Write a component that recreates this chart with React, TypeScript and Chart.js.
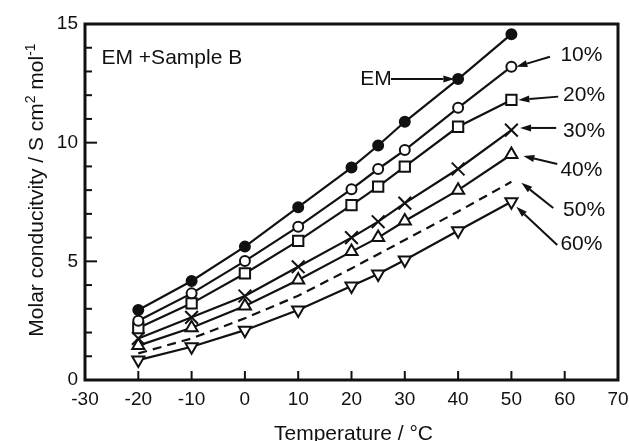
import { useEffect, useRef } from "react";
import { Chart, registerables } from "chart.js";

Chart.register(...registerables);

// ---- data ----
const temperatures = [-20, -10, 0, 10, 20, 25, 30, 40, 50];
const emValues = [2.95, 4.17, 5.62, 7.28, 8.95, 9.88, 10.88, 12.68, 14.57];
const p10Values = [2.5, 3.65, 5.01, 6.46, 8.04, 8.89, 9.69, 11.47, 13.2];
const p20Values = [2.19, 3.23, 4.49, 5.86, 7.37, 8.15, 8.99, 10.67, 11.8];
const p30Values = [1.75, 2.64, 3.54, 4.77, 6.0, 6.67, 7.45, 8.89, 10.53];
const p40Values = [1.45, 2.2, 3.12, 4.21, 5.41, 6.0, 6.7, 8.0, 9.5];
const p50Values = [1.12, 1.75, 2.6, 3.55, 4.7, 5.3, 5.9, 7.1, 8.35];
const p60Values = [0.84, 1.4, 2.1, 2.95, 3.96, 4.47, 5.06, 6.29, 7.51];

const seriesNames = ["EM", "10%", "20%", "30%", "40%", "50%", "60%"];

const xMin = -30;
const xMax = 70;
const xStep = 10;
const yMin = 0;
const yMax = 15;
const yMajorStep = 5;
const yMinorStep = 1;

const xTitle = "Temperature / °C";
const yTitleParts = [
  { text: "Molar conducitvity / S cm", sup: false },
  { text: "2", sup: true },
  { text: " mol", sup: false },
  { text: "-1", sup: true },
];
const panelTitle = "EM +Sample B";
const panelTitlePos = { x: -26.9, y: 13.57 };

// label positions (data coords) and arrows: [tailX, tailY, tipX, tipY]
const emLabelPos = { x: 24.58, y: 12.68 };
const emArrow = [27.4, 12.68, 39.3, 12.68];
const pctLabels = ["10%", "20%", "30%", "40%", "50%", "60%"];
const pctLabelPos = [
  { x: 59.2, y: 13.7 },
  { x: 59.7, y: 12.01 },
  { x: 59.7, y: 10.49 },
  { x: 59.2, y: 8.85 },
  { x: 59.7, y: 7.16 },
  { x: 59.2, y: 5.73 },
];
const pctArrows = [
  [57.23, 13.62, 50.93, 13.2],
  [58.79, 11.94, 51.31, 11.8],
  [58.41, 10.62, 51.63, 10.62],
  [58.6, 9.1, 52.24, 9.44],
  [57.85, 7.25, 51.87, 8.31],
  [58.6, 5.69, 50.93, 7.3],
];

const FONT = "'Liberation Sans', Arial, Helvetica, sans-serif";
const INK = "#111";

function drawArrow(ctx: CanvasRenderingContext2D, x1: number, y1: number, x2: number, y2: number) {
  const ang = Math.atan2(y2 - y1, x2 - x1);
  const headLen = 11;
  const headHalf = 3.5;
  const bx = x2 - headLen * Math.cos(ang);
  const by = y2 - headLen * Math.sin(ang);
  ctx.beginPath();
  ctx.moveTo(x1, y1);
  ctx.lineTo(bx, by);
  ctx.lineWidth = 2;
  ctx.strokeStyle = INK;
  ctx.stroke();
  ctx.beginPath();
  ctx.moveTo(x2, y2);
  ctx.lineTo(bx + headHalf * Math.sin(ang), by - headHalf * Math.cos(ang));
  ctx.lineTo(bx - headHalf * Math.sin(ang), by + headHalf * Math.cos(ang));
  ctx.closePath();
  ctx.fillStyle = INK;
  ctx.fill();
}

const decorPlugin = {
  id: "decor",
  afterDraw(chart: any) {
    const { ctx, chartArea, scales } = chart;
    const xs = scales.x;
    const ys = scales.y;
    const { left, right, top, bottom } = chartArea;
    ctx.save();
    // ticks (inside)
    ctx.strokeStyle = INK;
    ctx.lineWidth = 2;
    for (let v = xMin + xStep; v < xMax; v += xStep) {
      const px = xs.getPixelForValue(v);
      ctx.beginPath();
      ctx.moveTo(px, bottom);
      ctx.lineTo(px, bottom - 9);
      ctx.stroke();
    }
    for (let v = yMin + yMinorStep; v < yMax; v += yMinorStep) {
      const py = ys.getPixelForValue(v);
      const len = v % yMajorStep === 0 ? 12 : 7;
      ctx.beginPath();
      ctx.moveTo(left, py);
      ctx.lineTo(left + len, py);
      ctx.stroke();
    }
    // frame
    ctx.lineWidth = 3;
    ctx.strokeRect(left, top, right - left, bottom - top);

    // texts
    const txtFont = `21px ${FONT}`;
    ctx.fillStyle = INK;
    ctx.font = txtFont;
    ctx.textBaseline = "middle";
    ctx.textAlign = "left";
    ctx.fillText(panelTitle, xs.getPixelForValue(panelTitlePos.x), ys.getPixelForValue(panelTitlePos.y));
    ctx.textAlign = "center";
    ctx.fillText(seriesNames[0], xs.getPixelForValue(emLabelPos.x), ys.getPixelForValue(emLabelPos.y));
    drawArrow(
      ctx,
      xs.getPixelForValue(emArrow[0]),
      ys.getPixelForValue(emArrow[1]),
      xs.getPixelForValue(emArrow[2]),
      ys.getPixelForValue(emArrow[3])
    );
    pctLabels.forEach((lab, i) => {
      ctx.fillStyle = INK;
      ctx.font = txtFont;
      ctx.textBaseline = "middle";
      ctx.textAlign = "left";
      ctx.fillText(lab, xs.getPixelForValue(pctLabelPos[i].x), ys.getPixelForValue(pctLabelPos[i].y));
      const a = pctArrows[i];
      drawArrow(
        ctx,
        xs.getPixelForValue(a[0]),
        ys.getPixelForValue(a[1]),
        xs.getPixelForValue(a[2]),
        ys.getPixelForValue(a[3])
      );
    });

    // x title
    ctx.fillStyle = INK;
    ctx.font = txtFont;
    ctx.textAlign = "center";
    ctx.textBaseline = "alphabetic";
    ctx.fillText(xTitle, (left + right) / 2 + 2, 440);

    // y title with superscripts
    ctx.translate(43, (top + bottom) / 2 - 12);
    ctx.rotate(-Math.PI / 2);
    const mainFont = `21px ${FONT}`;
    const supFont = `14px ${FONT}`;
    let total = 0;
    const widths = yTitleParts.map((p) => {
      ctx.font = p.sup ? supFont : mainFont;
      const w = ctx.measureText(p.text).width;
      total += w;
      return w;
    });
    let cx = -total / 2;
    ctx.textAlign = "left";
    ctx.textBaseline = "alphabetic";
    yTitleParts.forEach((p, i) => {
      ctx.font = p.sup ? supFont : mainFont;
      ctx.fillText(p.text, cx, p.sup ? -8 : 0);
      cx += widths[i];
    });
    ctx.restore();
  },
};

function makeSeries(values: number[], name: string, style: any) {
  return {
    label: name,
    data: temperatures.map((t, i) => ({ x: t, y: values[i] })),
    borderColor: INK,
    borderWidth: 2.2,
    pointBorderColor: INK,
    pointBorderWidth: 2,
    ...style,
  };
}

export default function App() {
  const ref = useRef<HTMLCanvasElement | null>(null);
  useEffect(() => {
    document.body.style.margin = "0";
    const canvas = ref.current;
    if (!canvas) return;
    const chart = new Chart(canvas, {
      type: "line",
      data: {
        datasets: [
          makeSeries(emValues, seriesNames[0], { pointStyle: "circle", pointRadius: 5, pointBackgroundColor: INK }),
          makeSeries(p10Values, seriesNames[1], { pointStyle: "circle", pointRadius: 5, pointBackgroundColor: "#fff" }),
          makeSeries(p20Values, seriesNames[2], { pointStyle: "rect", pointRadius: 7.3, pointBackgroundColor: "#fff" }),
          makeSeries(p30Values, seriesNames[3], { pointStyle: "crossRot", pointRadius: 9, pointBackgroundColor: "#fff" }),
          makeSeries(p40Values, seriesNames[4], { pointStyle: "triangle", pointRadius: 7, pointBackgroundColor: "#fff" }),
          makeSeries(p50Values, seriesNames[5], { pointRadius: 0, borderDash: [9, 6] }),
          makeSeries(p60Values, seriesNames[6], {
            pointStyle: "triangle",
            pointRadius: 7,
            pointRotation: 180,
            pointBackgroundColor: "#fff",
          }),
        ],
      },
      options: {
        responsive: false,
        animation: false,
        devicePixelRatio: 1,
        events: [],
        layout: { padding: { top: 24, right: 0, left: 0, bottom: 0 } },
        plugins: { legend: { display: false }, tooltip: { enabled: false } },
        scales: {
          x: {
            type: "linear",
            min: xMin,
            max: xMax,
            ticks: {
              stepSize: xStep,
              color: INK,
              font: { family: FONT, size: 19 },
              padding: 8,
              maxRotation: 0,
            },
            grid: { display: false, drawTicks: false },
            border: { display: false },
            afterFit: (s: any) => {
              s.height = 61;
              s.paddingRight = 7;
            },
          },
          y: {
            type: "linear",
            min: yMin,
            max: yMax,
            ticks: {
              stepSize: yMajorStep,
              color: INK,
              font: { family: FONT, size: 19 },
              padding: 7,
            },
            grid: { display: false, drawTicks: false },
            border: { display: false },
            afterFit: (s: any) => {
              s.width = 85;
            },
          },
        },
      } as any,
      plugins: [decorPlugin],
    });
    return () => chart.destroy();
  }, []);
  return <canvas ref={ref} width={629} height={441} style={{ display: "block" }} />;
}
